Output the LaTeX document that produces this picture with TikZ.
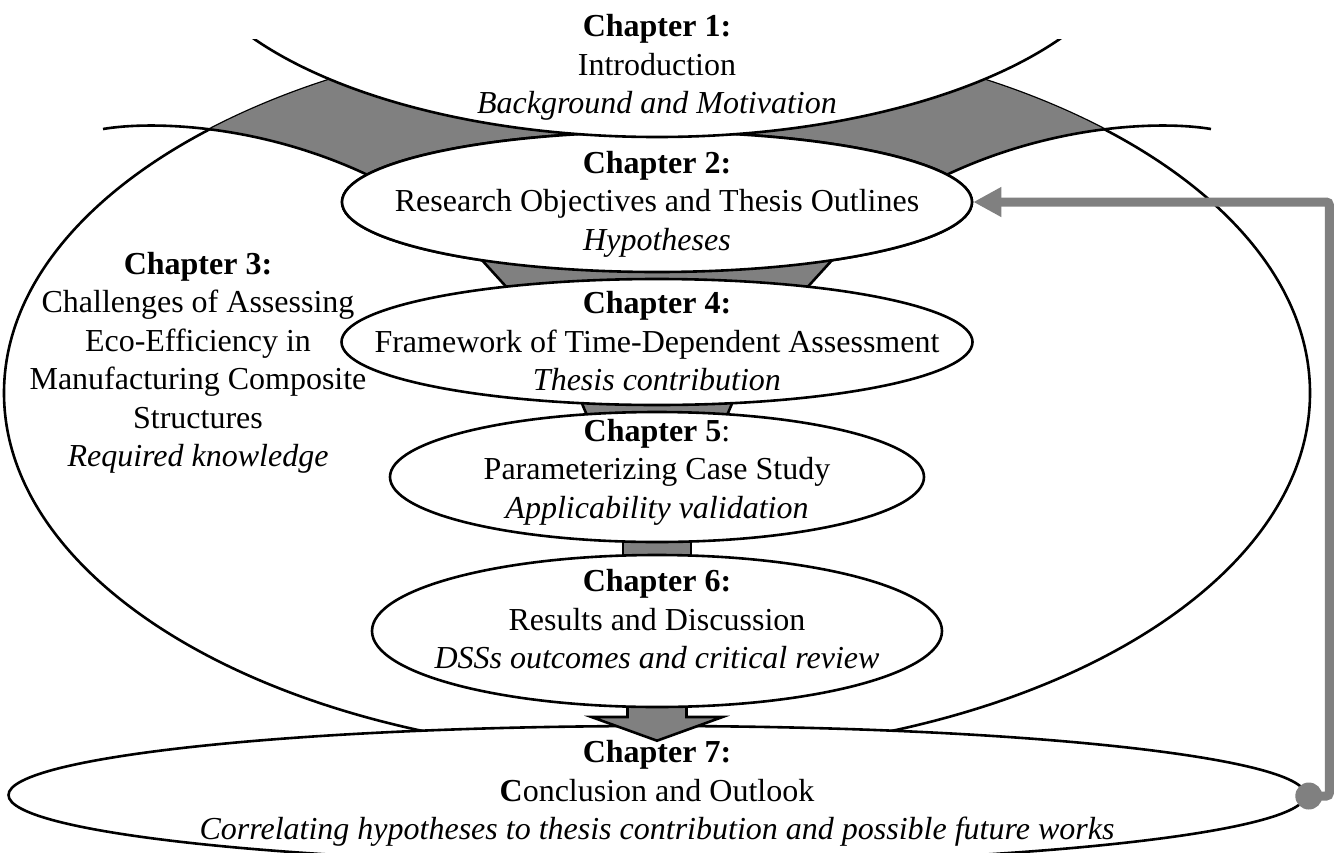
\documentclass[tikz,border=0pt]{standalone}
\usepackage{fontspec}
\setmainfont{Liberation Serif}
\usetikzlibrary{shapes.geometric,arrows.meta,calc}
\definecolor{funnelgray}{RGB}{128,128,128}
\begin{document}
\begin{tikzpicture}[x=1pt,y=-1pt,
  outline/.style={draw=black,line width=2.6pt},
  bubble/.style={ellipse,outline,fill=white,inner sep=0pt},
  connector/.style={fill=funnelgray,draw=black,line width=2.6pt,line join=miter},
  chaptext/.style={align=center,inner sep=0pt,font=\fontsize{32}{38.5}\selectfont},
  feedback/.style={draw=funnelgray,line width=9pt,rounded corners=3pt}]
\useasboundingbox (0,0) rectangle (1334,852);

% Chapter 3: the large surrounding ellipse
\node[bubble,minimum width=1306pt,minimum height=724pt] (c3) at (657,393) {};

% grey funnel between chapter 1 and chapter 2, kept inside chapter 3
\begin{scope}
  \clip (c3.center) ellipse [x radius=653,y radius=362];
  \fill[funnelgray] (103,129) .. controls (150,121) and (260,123) .. (372,177)
    -- (400,200) -- (914,200) -- (942,177)
    .. controls (1054,123) and (1164,121) .. (1211,129)
    -- (1211,0) -- (103,0) -- cycle;
\end{scope}
\draw[outline] (103,129) .. controls (150,121) and (260,123) .. (372,177) -- (385,184);
\draw[outline] (1211,129) .. controls (1164,121) and (1054,123) .. (942,177) -- (929,184);

% Chapter 7 ellipse and the arrow that leads into it
\node[bubble,minimum width=1297pt,minimum height=138pt] (c7) at (657,795) {};
\node[bubble,minimum width=570pt,minimum height=152pt,draw=none,fill=none] (c6) at (657,631) {};
\draw[connector] ($(c6.center)+(-29.5,0)$) -- ($(c6.center)+(-29.5,86)$)
  -- ($(c6.center)+(-65.5,86)$) -- ($(c7.north)+(0,16)$)
  -- ($(c6.center)+(65.5,86)$) -- ($(c6.center)+(29.5,86)$)
  -- ($(c6.center)+(29.5,0)$) -- cycle;

% chapter ellipses down the middle
\node[bubble,minimum width=630pt,minimum height=140pt] (c2) at (657,202) {};
\node[bubble,minimum width=631pt,minimum height=126pt,draw=none,fill=none] (c4) at (657,342) {};
\node[bubble,minimum width=534pt,minimum height=130pt,draw=none,fill=none] (c5) at (657,477) {};

% grey connectors between consecutive chapters
\draw[connector] ($(c2.center)+(-228,0)$) -- ($(c2.center)+(228,0)$)
  -- ($(c4.center)+(100.5,0)$) -- ($(c4.center)+(-100.5,0)$) -- cycle;
\draw[connector] ($(c4.center)+(-101,0)$) -- ($(c4.center)+(101,0)$)
  -- ($(c5.center)+(44,0)$) -- ($(c5.center)+(-44,0)$) -- cycle;
\draw[connector] ($(c5.center)+(-34,0)$) -- ($(c5.center)+(34,0)$)
  -- ($(c6.center)+(34,0)$) -- ($(c6.center)+(-34,0)$) -- cycle;

\draw[outline,fill=white] (c2.center) ellipse [x radius=315,y radius=70];
\draw[outline,fill=white] (c4.center) ellipse [x radius=315.5,y radius=63];
\draw[outline,fill=white] (c5.center) ellipse [x radius=267,y radius=65];
\draw[outline,fill=white] (c6.center) ellipse [x radius=285,y radius=76];

% Chapter 1: bottom of a wide ellipse running off the top
\node[ellipse,fill=white,inner sep=0pt,minimum width=960pt,minimum height=430pt] (c1) at (657,-78) {};
\begin{scope}
  \clip (0,39) rectangle (1334,852);
  \draw[outline] (c1.center) ellipse [x radius=480,y radius=215];
\end{scope}

% texts
\node[chaptext] (t1) at (657,67.3) {\strut\textbf{Chapter 1:}\\Introduction\\\strut\textit{Background and Motivation}};
\node[chaptext] (t2) at (657,203.8) {\strut\textbf{Chapter 2:}\\Research Objectives and Thesis Outlines\\\strut\textit{Hypotheses}};
\node[chaptext] (t3) at (198,362.8) {\strut\textbf{Chapter 3:}\\Challenges of Assessing\\Eco-Efficiency in\\Manufacturing Composite\\Structures\\\strut\textit{Required knowledge}};
\node[chaptext] (t4) at (657,344.3) {\strut\textbf{Chapter 4:}\\Framework of Time-Dependent Assessment\\\strut\textit{Thesis contribution}};
\node[chaptext] (t5) at (657,471.8) {\strut\textbf{Chapter 5}:\\Parameterizing Case Study\\\strut\textit{Applicability validation}};
\node[chaptext] (t6) at (657,622.3) {\strut\textbf{Chapter 6:}\\Results and Discussion\\\strut\textit{DSSs outcomes and critical review}};
\node[chaptext] (t7) at (657,793.3) {\strut\textbf{Chapter 7:}\\\textbf{C}onclusion and Outlook\\\strut\textit{Correlating hypotheses to thesis contribution and possible future works}};

% feedback loop from chapter 7 back to chapter 2
\coordinate (fbcorner) at ($(c2.east)+(356,0)$);
\node[circle,fill=funnelgray,inner sep=0pt,minimum size=27pt] (dot) at ($(c7.east)+(2,1)$) {};
\draw[feedback,-{Triangle[length=28pt,width=28pt]}] (dot.center) -| (fbcorner) -- (c2.east);
\end{tikzpicture}
\end{document}
